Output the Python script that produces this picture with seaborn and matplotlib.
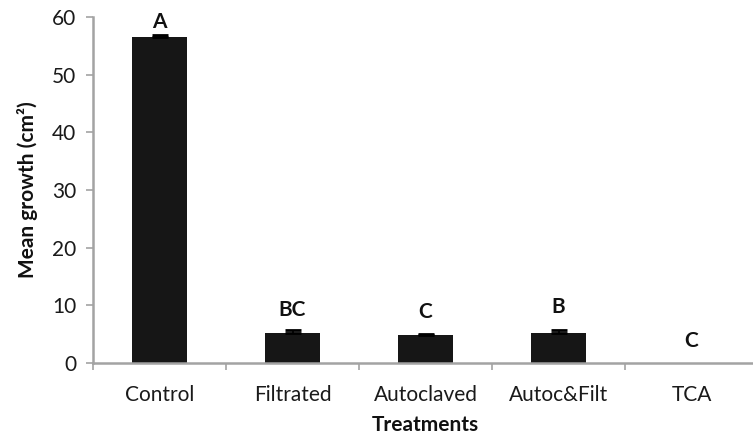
import matplotlib
matplotlib.use("Agg")
import matplotlib.pyplot as plt
import seaborn as sns
import pandas as pd
import numpy as np

treatments = ["Control", "Filtrated", "Autoclaved", "Autoc&Filt", "TCA"]
mean_growth = [56.5, 5.25, 4.85, 5.25, 0.0]
growth_se = [0.3, 0.4, 0.15, 0.4, 0.0]
letters = ["A", "BC", "C", "B", "C"]
letter_y = [59.2, 9.2, 8.8, 9.7, 3.85]

df = pd.DataFrame({"Treatment": treatments, "Growth": mean_growth})

sns.set_theme(style="white")
plt.rcParams["font.family"] = ["Lato", "DejaVu Sans"]

fig = plt.figure(figsize=(7.53, 4.37), dpi=100)
ax = fig.add_axes([93 / 753, 1 - 363 / 437, 665 / 753, 346 / 437])

sns.barplot(data=df, x="Treatment", y="Growth", color="#161616",
            saturation=1, width=0.41, errorbar=None, ax=ax)
for p in ax.patches:
    p.set_edgecolor("none")

# upper error caps only, for treatments with a nonzero error
x = np.arange(len(treatments))
se = np.asarray(growth_se)
has_err = se > 0
ax.errorbar(x[has_err], np.asarray(mean_growth)[has_err],
            yerr=[np.zeros(has_err.sum()), se[has_err]],
            fmt="none", ecolor="black", elinewidth=1.2, capsize=6, capthick=2)

for xi, lab, ly in zip(x, letters, letter_y):
    ax.text(xi, ly, lab, ha="center", va="center", fontsize=15,
            fontweight="bold", color="#111111")

ax.set_xlim(-0.5, 4.5)
ax.set_ylim(0, 60)
ax.set_yticks(range(0, 61, 10))

grey = "#a3a3a3"
for s in ["top", "right"]:
    ax.spines[s].set_visible(False)
for s in ["left", "bottom"]:
    ax.spines[s].set_color(grey)
    ax.spines[s].set_linewidth(1.8)

ax.tick_params(axis="y", which="major", direction="out", length=5, width=1.2,
               color=grey, labelsize=15, labelcolor="#1a1a1a", pad=7, left=True)
ax.tick_params(axis="x", which="major", length=0, labelsize=15,
               labelcolor="#1a1a1a", pad=16)
ax.set_xticks(np.arange(-0.5, 4.0, 1.0), minor=True)
ax.tick_params(axis="x", which="minor", direction="out", length=5, width=1.2,
               color=grey, bottom=True)

ax.set_xlabel("Treatments", fontsize=15, fontweight="bold", color="#111111",
              labelpad=7)
ax.set_ylabel("Mean growth (cm²)", fontsize=15, fontweight="bold",
              color="#111111", labelpad=10)

fig.savefig("out.png", dpi=100)
